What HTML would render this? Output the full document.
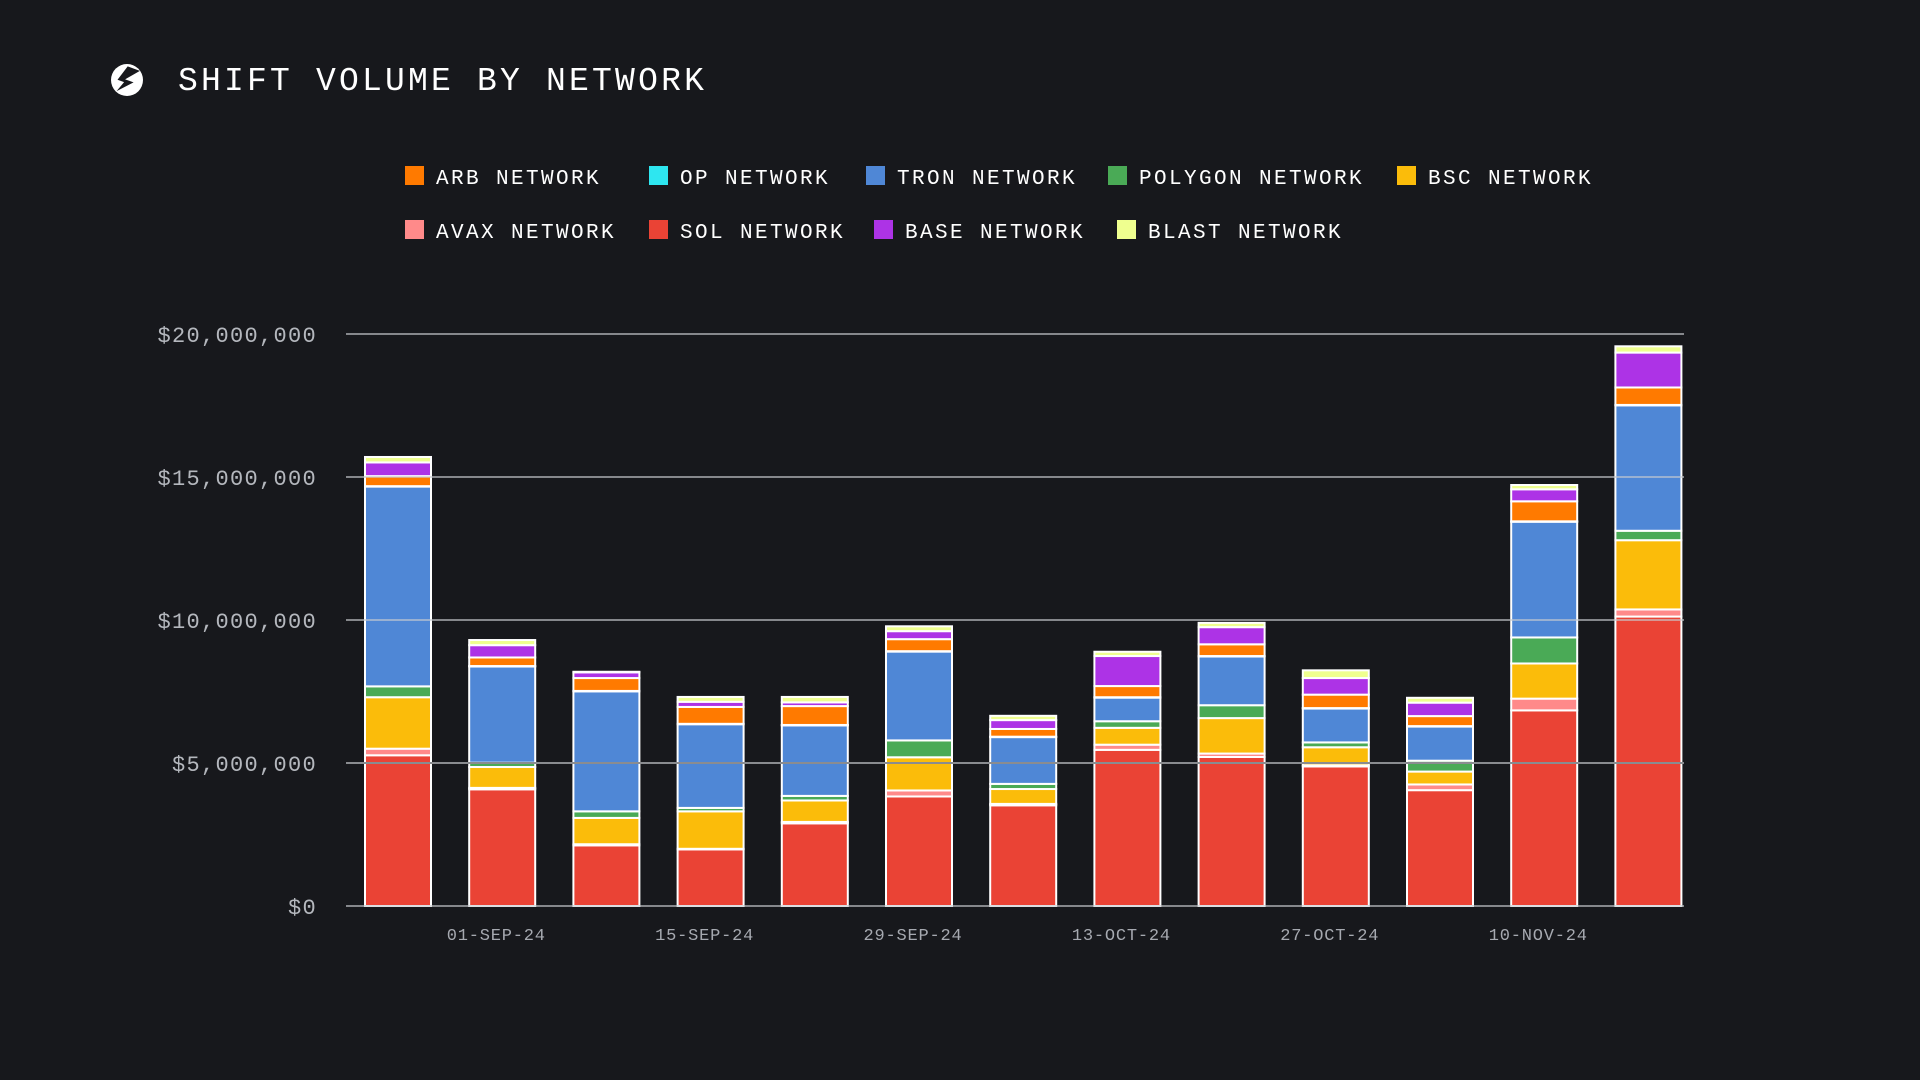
<!DOCTYPE html>
<html><head><meta charset="utf-8"><style>
html,body{margin:0;padding:0;background:#17181c;}
svg{display:block}
text{font-family:"Liberation Mono",monospace;}
</style></head><body>
<svg id="c" width="1920" height="1080" viewBox="0 0 1920 1080">
<rect width="1920" height="1080" fill="#17181c"/>
<g transform="translate(127,80)">
<circle r="16" fill="#fff"/>
<path d="M-4,-13 L9,-13 L-2,0 L7,0 L-6,14 L-2,3 L-9,3 Z" fill="#17181c" transform="rotate(20)"/>
</g>
<text x="178" y="90" fill="#ffffff" font-size="33" letter-spacing="3.2">SHIFT VOLUME BY NETWORK</text>
<g id="legend"></g>
<g id="grid"></g>
<g id="bars"></g>
<g id="grid2"></g>
<g id="xaxis"></g>
<g id="yaxis"></g>
</svg>
<script>
const categories = ["25-AUG-24","01-SEP-24","08-SEP-24","15-SEP-24","22-SEP-24","29-SEP-24","06-OCT-24","13-OCT-24","20-OCT-24","27-OCT-24","03-NOV-24","10-NOV-24","17-NOV-24"];
const xTickLabels = ["01-SEP-24","15-SEP-24","29-SEP-24","13-OCT-24","27-OCT-24","10-NOV-24"];
const yTicks = [0,5000000,10000000,15000000,20000000];
const yTickLabels = ["$0","$5,000,000","$10,000,000","$15,000,000","$20,000,000"];
const seriesNames = ["SOL NETWORK","AVAX NETWORK","BSC NETWORK","POLYGON NETWORK","TRON NETWORK","OP NETWORK","ARB NETWORK","BASE NETWORK","BLAST NETWORK"];
const seriesColors = ["#ea4335","#ff8a8a","#fbbc0a","#4aaa56","#4f87d6","#2ee6f0","#ff7a00","#ad33e6","#efff8f"];
// values in millions USD
const sol     = [5.27,4.08,2.12,1.98,2.89,3.83,3.52,5.46,5.21,4.88,4.05,6.84,10.12];
const avax    = [0.23,0.05,0.04,0.02,0.05,0.21,0.05,0.18,0.12,0.04,0.20,0.41,0.25];
const bsc     = [1.80,0.73,0.92,1.31,0.75,1.16,0.52,0.59,1.24,0.63,0.45,1.23,2.42];
const polygon = [0.38,0.15,0.23,0.12,0.16,0.59,0.18,0.23,0.45,0.17,0.38,0.91,0.33];
const tron    = [6.99,3.37,4.20,2.93,2.47,3.11,1.64,0.83,1.71,1.19,1.20,4.05,4.39];
const op      = [0.01,0.01,0.01,0.01,0.01,0.01,0.01,0.01,0.01,0.01,0.01,0.01,0.01];
const arb     = [0.35,0.30,0.45,0.59,0.66,0.42,0.27,0.39,0.41,0.47,0.35,0.70,0.61];
const base    = [0.48,0.43,0.20,0.18,0.13,0.28,0.31,1.05,0.60,0.58,0.47,0.42,1.22];
const blast   = [0.19,0.18,0.02,0.17,0.19,0.17,0.15,0.15,0.15,0.27,0.17,0.15,0.22];
const seriesValues = [sol,avax,bsc,polygon,tron,op,arb,base,blast];

const NS="http://www.w3.org/2000/svg";
const X0=346,X1=1684,Y0=906,Y20=334;
const firstC=398,step=104.2;
const barW=66;
function xCenter(i){return firstC+step*i;}
function y(v){return Y0-(v/20000000)*(Y0-Y20);}
function mk(tag,attrs,parent){const e=document.createElementNS(NS,tag);for(const k in attrs)e.setAttribute(k,attrs[k]);parent.appendChild(e);return e;}

// legend
const legendOrder=[["ARB NETWORK",6,405,176],["OP NETWORK",5,649,176],["TRON NETWORK",4,866,176],["POLYGON NETWORK",3,1108,176],["BSC NETWORK",2,1397,176],
["AVAX NETWORK",1,405,230],["SOL NETWORK",0,649,230],["BASE NETWORK",7,874,230],["BLAST NETWORK",8,1117,230]];
const lg=document.getElementById('legend');
legendOrder.forEach(([name,si,lx,ly])=>{
  const g=mk('g',{},lg);
  
  
  const r=mk('rect',{x:lx,y:ly-10,width:19,height:19,fill:seriesColors[si]},g);
  
  
  const t=mk('text',{x:lx+31,y:ly+8,fill:'#ffffff','font-size':21,'letter-spacing':2.4},g);
  
  
  t.textContent=name;
});

// grid + y labels
const grid=document.getElementById('grid2'),ya=document.getElementById('yaxis');
yTicks.forEach((v,i)=>{
  const l=mk('line',{x1:X0,x2:X1,y1:y(v),y2:y(v),stroke:i==1?'#8a8c90':'#c8cacf','stroke-width':i==1?2:1.2},grid);
  
  
  const t=mk('text',{x:317,y:y(v)+8,fill:'#b4b7bd','font-size':22,'text-anchor':'end','letter-spacing':1.3},ya);
  
  
  t.textContent=yTickLabels[i];
});

// bars
const bars=document.getElementById('bars');
categories.forEach((c,i)=>{
  const g=mk('g',{},bars);
  
  
  let cum=0;
  seriesValues.forEach((arr,si)=>{
    const v=arr[i]*1000000;
    const yt=y(cum+v),yb=y(cum);
    const r=mk('rect',{x:xCenter(i)-barW/2,y:yt,width:barW,height:Math.max(yb-yt,0.5),fill:seriesColors[si],stroke:'#ffffff','stroke-width':2},g);
    
    
    cum+=v;
  });
});

// x labels
const xa=document.getElementById('xaxis');
xTickLabels.forEach(lbl=>{
  const i=categories.indexOf(lbl);
  const t=mk('text',{x:xCenter(i)-6,y:940,fill:'#a6a9b0','font-size':17,'text-anchor':'middle','letter-spacing':0.8},xa);
  
  
  t.textContent=lbl;
});
</script>
</body></html>
